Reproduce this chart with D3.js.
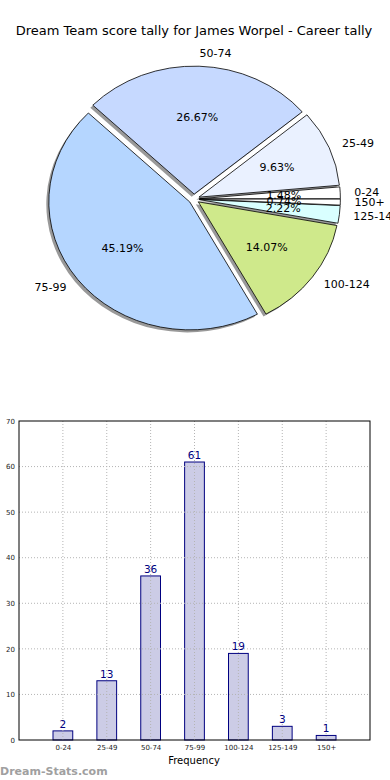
<!DOCTYPE html>
<html><head><meta charset="utf-8">
<script src="https://cdn.jsdelivr.net/npm/d3@7/dist/d3.min.js"></script>
<style>body{margin:0;background:#fff}svg{display:block}</style>
</head><body>
<svg id="c" width="390" height="780"></svg>
<script>
const categories = ["0-24","25-49","50-74","75-99","100-124","125-149","150+"];
const counts = [2,13,36,61,19,3,1];
const pieColors = ["#ffffff","#eaf1ff","#c6d9ff","#b5d6ff","#cfe98b","#d9ffff","#ffffff"];
const yTicks = [0,10,20,30,40,50,60,70];
const title = "Dream Team score tally for James Worpel - Career tally";

const svg = d3.select("#c");
const font = "DejaVu Sans, sans-serif";

svg.append("text").attr("x",194).attr("y",35).attr("text-anchor","middle")
  .attr("font-family",font).attr("font-size",13).text(title);

// Pie
const cx=194, cy=199, rx=141, ry=128, ex=0.038;
const total=d3.sum(counts);
const pie=d3.pie().sort(null).startAngle(Math.PI/2).endAngle(Math.PI/2-2*Math.PI);
const arcs=pie(counts);
const arc=d3.arc().innerRadius(0).outerRadius(1);
const g=svg.append("g");
arcs.forEach((a,i)=>{
  const mid=Math.PI/2-(a.startAngle+a.endAngle)/2;
  a.dx=ex*rx*Math.cos(mid); a.dy=-ex*ry*Math.sin(mid); a.mid=mid;
});
arcs.forEach((a,i)=>{
  g.append("path").attr("d",arc(a))
    .attr("transform",`translate(${cx+a.dx-2.5},${cy+a.dy+2.5}) scale(${rx},${ry})`)
    .attr("fill","#7f7f7f").attr("opacity",0.8);
});
arcs.forEach((a,i)=>{
  g.append("path").attr("d",arc(a))
    .attr("transform",`translate(${cx+a.dx},${cy+a.dy}) scale(${rx},${ry})`)
    .attr("fill",pieColors[i]).attr("stroke","#000").attr("stroke-width",0.8)
    .attr("vector-effect","non-scaling-stroke").attr("stroke-linejoin","round");
});
arcs.forEach((a,i)=>{
  const c=Math.cos(a.mid), s=Math.sin(a.mid);
  const lx=cx+a.dx+1.1*rx*c, ly=cy+a.dy-1.1*ry*s;
  g.append("text").attr("x",lx).attr("y",ly).attr("dy","0.35em")
    .attr("text-anchor",c>0?"start":"end").attr("font-family",font).attr("font-size",11)
    .text(categories[i]);
  const px=cx+a.dx+0.6*rx*c, py=cy+a.dy-0.6*ry*s;
  g.append("text").attr("x",px).attr("y",py).attr("dy","0.35em")
    .attr("text-anchor","middle").attr("font-family",font).attr("font-size",11)
    .text((counts[i]/total*100).toFixed(2)+"%");
});

// Bar chart
const L=19,R=370,T=421,B=740;
const x=d3.scaleLinear().domain([-1,categories.length]).range([L,R]);
const y=d3.scaleLinear().domain([0,70]).range([B,T]);
const bg=svg.append("g");
const bw=x(0.45)-x(0);
bg.selectAll(".bar").data(counts).join("rect")
  .attr("x",(d,i)=>x(i)-bw/2).attr("width",bw)
  .attr("y",d=>y(d)).attr("height",d=>y(0)-y(d))
  .attr("fill","#cccce6").attr("stroke","#000080").attr("stroke-width",1);
bg.selectAll(".gx").data(categories).join("line")
  .attr("x1",(d,i)=>x(i)).attr("x2",(d,i)=>x(i)).attr("y1",T).attr("y2",B)
  .attr("stroke","#b4b4b4").attr("stroke-dasharray","1,2").attr("stroke-width",1);
bg.selectAll(".gy").data(yTicks.slice(1,-1)).join("line")
  .attr("x1",L).attr("x2",R).attr("y1",d=>y(d)).attr("y2",d=>y(d))
  .attr("stroke","#b4b4b4").attr("stroke-dasharray","1,2").attr("stroke-width",1);
bg.selectAll(".val").data(counts).join("text")
  .attr("x",(d,i)=>x(i)).attr("y",d=>y(d)-3).attr("text-anchor","middle")
  .attr("font-family",font).attr("font-size",10.5).attr("fill","#000080").text(d=>d);
bg.append("rect").attr("x",L).attr("y",T).attr("width",R-L).attr("height",B-T)
  .attr("fill","none").attr("stroke","#000").attr("stroke-width",1);
const yAxis=d3.axisLeft(y).tickValues(yTicks).tickSize(0).tickPadding(4);
const ya=bg.append("g").attr("transform",`translate(${L},0)`).call(yAxis);
ya.select(".domain").remove();
ya.selectAll("text").attr("font-family",font).attr("font-size",7).attr("fill","#222");
const xAxis=d3.axisBottom(x).tickValues(d3.range(categories.length)).tickFormat(i=>categories[i]).tickSize(0).tickPadding(5);
const xa=bg.append("g").attr("transform",`translate(0,${B})`).call(xAxis);
xa.select(".domain").remove();
xa.selectAll("text").attr("font-family",font).attr("font-size",7).attr("fill","#222");
bg.append("text").attr("x",194).attr("y",764).attr("text-anchor","middle")
  .attr("font-family",font).attr("font-size",10).text("Frequency");
svg.append("text").attr("x",0).attr("y",775).attr("font-family",font).attr("font-size",11)
  .attr("font-weight","bold").attr("fill","#a0a0a0").text("Dream-Stats.com");
</script>
</body></html>
